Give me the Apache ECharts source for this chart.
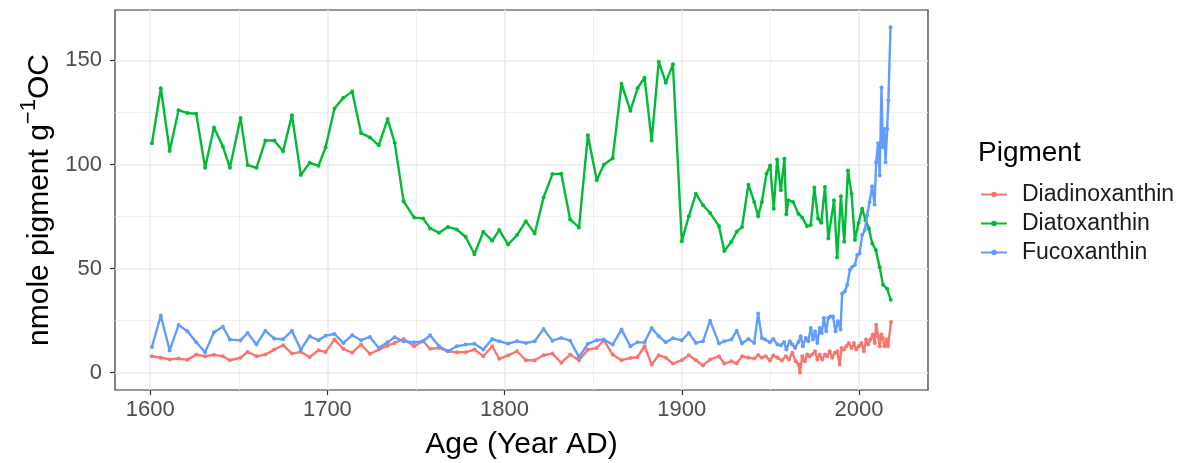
<!DOCTYPE html>
<html>
<head>
<meta charset="utf-8">
<script src="https://cdn.jsdelivr.net/npm/echarts@6/dist/echarts.min.js"></script>
<style>
  html, body { margin: 0; padding: 0; background: #ffffff; }
  #chart { width: 1180px; height: 463px; }
</style>
</head>
<body>
<div id="chart"></div>
<script>
// Pigment concentrations in the sediment core, by age (year AD)
const seriesNames = ['Diadinoxanthin', 'Diatoxanthin', 'Fucoxanthin'];
const seriesColors = ['#F8766D', '#00BA38', '#619CFF'];

const diadinoYears = [
  1601, 1606, 1611, 1616, 1621, 1626, 1631, 1636, 1641, 1645, 1651, 1655, 1660, 1665, 1670,
  1675, 1680, 1685, 1690, 1695, 1699, 1704, 1709, 1714, 1719, 1724, 1729, 1734, 1738, 1743,
  1749, 1754, 1758, 1763, 1768, 1773, 1778, 1783, 1788, 1793, 1797, 1802, 1807, 1812, 1817,
  1822, 1827, 1832, 1837, 1842, 1847, 1852, 1856, 1861, 1866, 1871, 1875, 1879, 1883, 1887,
  1891, 1895, 1900, 1904, 1908, 1912, 1916, 1921, 1924, 1928, 1931, 1934, 1937.6, 1940.9, 1943.1,
  1945.2, 1947.4, 1949.7, 1951.7, 1954.0, 1956.4, 1958.7, 1960.5, 1962.4, 1964.3, 1965.8, 1966.7,
  1968.0, 1969.5, 1970.8, 1972.2, 1973.6, 1975.2, 1976.5, 1977.8, 1979.3, 1980.8, 1982.1, 1983.5,
  1984.9, 1986.4, 1987.7, 1989.1, 1990.2, 1991.5, 1992.8, 1994.3, 1995.8, 1997.1, 1998.4, 1999.9,
  2001.4, 2002.8, 2004.0, 2005.2, 2006.5, 2007.8, 2008.9, 2009.7, 2010.8, 2011.7, 2012.7, 2013.5,
  2014.4, 2015.6, 2016.4, 2018.1
];
const diadinoxanthin = [
  7.9, 7.2, 6.4, 6.8, 6.2, 8.7, 7.9, 8.6, 7.9, 6.0, 7.2, 10.0, 7.9, 8.7, 11.1,
  13.2, 9.2, 10.0, 7.5, 10.8, 10.0, 15.9, 11.5, 9.6, 13.5, 9.1, 11.1, 13.0, 14.3, 16.2,
  12.7, 15.1, 11.5, 11.9, 10.3, 9.8, 9.8, 11.1, 7.9, 12.7, 6.7, 8.3, 10.3, 6.0, 6.0,
  8.4, 9.2, 4.8, 8.7, 6.0, 11.1, 11.9, 15.6, 8.7, 6.0, 7.1, 7.5, 12.7, 4.0, 8.4,
  7.2, 4.4, 6.0, 8.4, 6.0, 3.5, 6.4, 7.9, 4.4, 5.5, 4.4, 7.9, 7.2, 6.8, 8.5,
  7.2, 7.9, 5.9, 8.3, 7.2, 5.9, 7.9, 6.4, 9.6, 5.5, 4.0, 0.0,
  7.9, 5.5, 8.7, 7.9, 8.7, 10.3, 6.4, 8.7, 6.4, 8.7, 7.9, 10.3,
  7.2, 9.6, 10.3, 4.0, 11.9, 11.1, 12.7, 14.3, 11.9, 14.3, 11.1, 12.7,
  14.3, 10.3, 15.9, 13.5, 15.9, 18.3, 14.3, 23.1, 17.5, 12.7, 18.3, 16.7,
  12.7, 15.9, 12.7, 24.4
];

const diatoYears = [
  1601, 1606, 1611, 1616, 1621, 1626, 1631, 1636, 1641, 1645, 1651, 1655, 1660, 1665, 1670,
  1675, 1680, 1685, 1690, 1695, 1699, 1704, 1709, 1714, 1719, 1724, 1729, 1734, 1738, 1743,
  1749, 1754, 1758, 1763, 1768, 1773, 1778, 1783, 1788, 1793, 1797, 1802, 1807, 1812, 1817,
  1822, 1827, 1832, 1837, 1842, 1847, 1852, 1856, 1861, 1866, 1871, 1875, 1879, 1883, 1887,
  1891, 1895, 1900, 1904, 1908, 1912, 1916, 1921, 1924, 1928, 1931, 1934, 1937.6, 1940.9, 1943.1,
  1945.2, 1947.8, 1949.9, 1951.9, 1953.8, 1955.9, 1957.9, 1959.0, 1960.2, 1962.8, 1965.8, 1968.0,
  1970.7, 1972.8, 1974.8, 1976.9, 1978.7, 1980.8, 1982.7, 1985.9, 1987.7, 1989.8, 1991.7, 1993.8,
  1995.8, 1997.7, 1999.8, 2001.8, 2003.7, 2005.6, 2007.5, 2009.5, 2011.7, 2013.6, 2015.9, 2017.9
];
const diatoxanthin = [
  110.2, 136.6, 106.5, 126.1, 124.7, 124.4, 98.4, 117.8, 108.7, 98.4, 122.3, 99.7, 98.4, 111.5, 111.5,
  106.4, 123.7, 94.9, 100.8, 99.4, 108.3, 126.9, 132.0, 135.0, 115.1, 113.0, 109.2, 121.8, 110.4, 82.3,
  74.5, 74.1, 69.3, 67.2, 70.0, 68.8, 65.3, 56.9, 67.7, 63.4, 68.5, 61.6, 66.1, 72.8, 66.9,
  84.2, 95.4, 95.6, 73.6, 69.8, 114.0, 92.4, 99.9, 103.0, 138.8, 125.8, 136.6, 141.7, 111.5, 149.4,
  139.3, 148.1, 63.2, 75.2, 86.0, 80.4, 76.7, 70.4, 58.4, 62.9, 67.7, 70.0, 90.3, 82.0, 75.2,
  82.0, 95.6, 99.5, 78.8, 102.4, 87.6, 102.7, 76.1, 82.8, 82.0, 76.4, 74.5,
  70.4, 70.9, 88.9, 74.1, 72.0, 89.2, 64.5, 82.8, 55.4, 84.7, 62.9, 97.1,
  86.0, 63.7, 72.0, 78.8, 73.2, 69.3, 62.1, 58.9, 50.6, 42.2, 40.3, 35.0
];

const fucoYears = [
  1601, 1606, 1611, 1616, 1621, 1626, 1631, 1636, 1641, 1645, 1651, 1655, 1660, 1665, 1670,
  1675, 1680, 1685, 1690, 1695, 1699, 1704, 1709, 1714, 1719, 1724, 1729, 1734, 1738, 1743,
  1749, 1754, 1758, 1763, 1768, 1773, 1778, 1783, 1788, 1793, 1797, 1802, 1807, 1812, 1817,
  1822, 1827, 1832, 1837, 1842, 1847, 1852, 1856, 1861, 1866, 1871, 1875, 1879, 1883, 1887,
  1891, 1895, 1900, 1904, 1908, 1912, 1916, 1921, 1924, 1928, 1931, 1934, 1937.6, 1940.9, 1943.1,
  1945.2, 1947.0, 1949.7, 1951.7, 1954.0, 1955.9, 1957.7, 1959.0, 1960.9, 1962.4, 1963.9, 1965.8,
  1967.1, 1968.4, 1969.9, 1971.4, 1972.8, 1974.0, 1975.2, 1976.5, 1977.8, 1979.0, 1980.2, 1981.5,
  1982.7, 1984.0, 1985.3, 1986.8, 1988.1, 1989.6, 1990.5, 1992.0, 1993.4, 1994.9, 1996.2, 1997.7,
  1999.0, 2000.3, 2001.8, 2003.3, 2004.6, 2006.0, 2007.4, 2008.8, 2009.7, 2010.8, 2011.7, 2012.7,
  2013.5, 2014.2, 2015.0, 2015.9, 2016.6, 2017.8
];
const fucoxanthin = [
  12.4, 27.5, 10.7, 22.9, 19.9, 14.6, 9.8, 19.4, 22.1, 15.9, 15.6, 19.1, 13.5, 20.2, 16.4,
  16.1, 20.1, 11.1, 17.5, 15.6, 17.8, 18.6, 14.3, 18.0, 15.6, 17.2, 11.9, 14.6, 17.0, 15.1,
  14.6, 15.1, 18.0, 12.7, 10.3, 12.7, 13.5, 13.9, 11.1, 16.2, 15.1, 14.0, 15.1, 14.3, 15.1,
  21.0, 15.4, 16.7, 15.4, 7.5, 13.9, 15.6, 15.9, 13.5, 20.7, 12.7, 14.6, 14.6, 21.5, 17.5,
  14.6, 16.5, 15.6, 19.1, 14.3, 15.1, 25.0, 14.0, 15.1, 15.9, 20.2, 14.0, 16.2, 14.3, 28.5,
  16.7, 15.9, 14.6, 16.2, 13.5, 13.2, 14.8, 11.1, 15.1, 13.5, 11.9, 14.8,
  17.5, 12.7, 16.7, 15.1, 21.5, 15.9, 19.9, 14.3, 21.5, 19.1, 26.3, 19.9,
  26.3, 27.0, 27.0, 19.9, 24.7, 20.7, 38.0, 39.0, 42.2, 49.4, 50.9, 51.7,
  56.5, 57.3, 66.1, 68.5, 75.6, 82.0, 89.6, 80.8, 101.1, 110.2, 94.7, 137.0,
  108.3, 117.1, 101.1, 117.1, 130.9, 165.9
];

const xTicks = [1600, 1700, 1800, 1900, 2000];
const yTicks = [0, 50, 100, 150];

const FONT = "'Liberation Sans', Arial, Helvetica, sans-serif";

const allYears = diadinoYears.concat(diatoYears, fucoYears);
const allValues = diadinoxanthin.concat(diatoxanthin, fucoxanthin);

// 5% padding on each side of the data range
function padded(values) {
  const lo = Math.min.apply(null, values);
  const hi = Math.max.apply(null, values);
  const pad = (hi - lo) * 0.05;
  return [lo - pad, hi + pad];
}
const xRange = padded(allYears);
const yRange = padded(allValues);

const yearSets = [diadinoYears, diatoYears, fucoYears];
const valueSets = [diadinoxanthin, diatoxanthin, fucoxanthin];

const series = seriesNames.map(function (name, i) {
  return {
    name: name,
    type: 'line',
    data: yearSets[i].map(function (yr, j) { return [yr, valueSets[i][j]]; }),
    symbol: 'circle',
    symbolSize: 4,
    showSymbol: true,
    lineStyle: { width: 2.4, color: seriesColors[i] },
    itemStyle: { color: seriesColors[i] },
    emphasis: { disabled: true },
    z: 2 + i
  };
});

const chart = echarts.init(document.getElementById('chart'), null, { renderer: 'canvas' });

chart.setOption({
  animation: false,
  backgroundColor: '#ffffff',
  textStyle: { fontFamily: FONT },
  title: {
    text: 'Pigment',
    left: 973,
    top: 134,
    textStyle: { fontFamily: FONT, fontSize: 28, fontWeight: 'normal', color: '#000000' }
  },
  legend: {
    data: seriesNames,
    orient: 'vertical',
    left: 975,
    top: 178,
    itemWidth: 26,
    itemHeight: 7,
    itemGap: 6,
    textStyle: { fontFamily: FONT, fontSize: 23, color: '#1a1a1a', lineHeight: 22, padding: [0, 0, 0, 10] }
  },
  grid: {
    left: 115,
    right: 252,
    top: 10,
    bottom: 73,
    outerBoundsMode: 'none',
    containLabel: false,
    show: true,
    borderColor: '#333333',
    borderWidth: 1.2,
    backgroundColor: 'transparent'
  },
  xAxis: {
    type: 'value',
    min: xRange[0],
    max: xRange[1],
    splitNumber: 5,
    name: 'Age (Year AD)',
    nameLocation: 'middle',
    nameGap: 40,
    nameTextStyle: { fontFamily: FONT, fontSize: 30, color: '#000000' },
    axisLine: { show: false, onZero: false },
    axisTick: { show: true, length: 5, customValues: xTicks, lineStyle: { color: '#333333', width: 1.2 } },
    axisLabel: {
      customValues: xTicks, margin: 9, fontFamily: FONT, fontSize: 22, color: '#4d4d4d',
      formatter: function (v) { return String(v); }
    },
    splitLine: { show: true, lineStyle: { color: '#ebebeb', width: 1.6 } },
    minorTick: { show: false, splitNumber: 2 },
    minorSplitLine: { show: true, lineStyle: { color: '#ebebeb', width: 0.8 } }
  },
  yAxis: {
    type: 'value',
    min: yRange[0],
    max: yRange[1],
    splitNumber: 4,
    name: '{m|nmole pigment g}{s|−1}{m|OC}',
    nameLocation: 'middle',
    nameGap: 60,
    nameTextStyle: {
      fontFamily: FONT,
      color: '#000000',
      rich: {
        m: { fontFamily: FONT, fontSize: 30, lineHeight: 36, color: '#000000', verticalAlign: 'bottom' },
        s: { fontFamily: FONT, fontSize: 22, lineHeight: 20, color: '#000000', verticalAlign: 'top' }
      }
    },
    axisLine: { show: false, onZero: false },
    axisTick: { show: true, length: 5, customValues: yTicks, lineStyle: { color: '#333333', width: 1.2 } },
    axisLabel: {
      customValues: yTicks, margin: 13, fontFamily: FONT, fontSize: 22, color: '#4d4d4d',
      formatter: function (v) { return String(v); }
    },
    splitLine: { show: true, lineStyle: { color: '#ebebeb', width: 1.6 } },
    minorTick: { show: false, splitNumber: 2 },
    minorSplitLine: { show: true, lineStyle: { color: '#ebebeb', width: 0.8 } }
  },
  series: series
});
</script>
</body>
</html>
